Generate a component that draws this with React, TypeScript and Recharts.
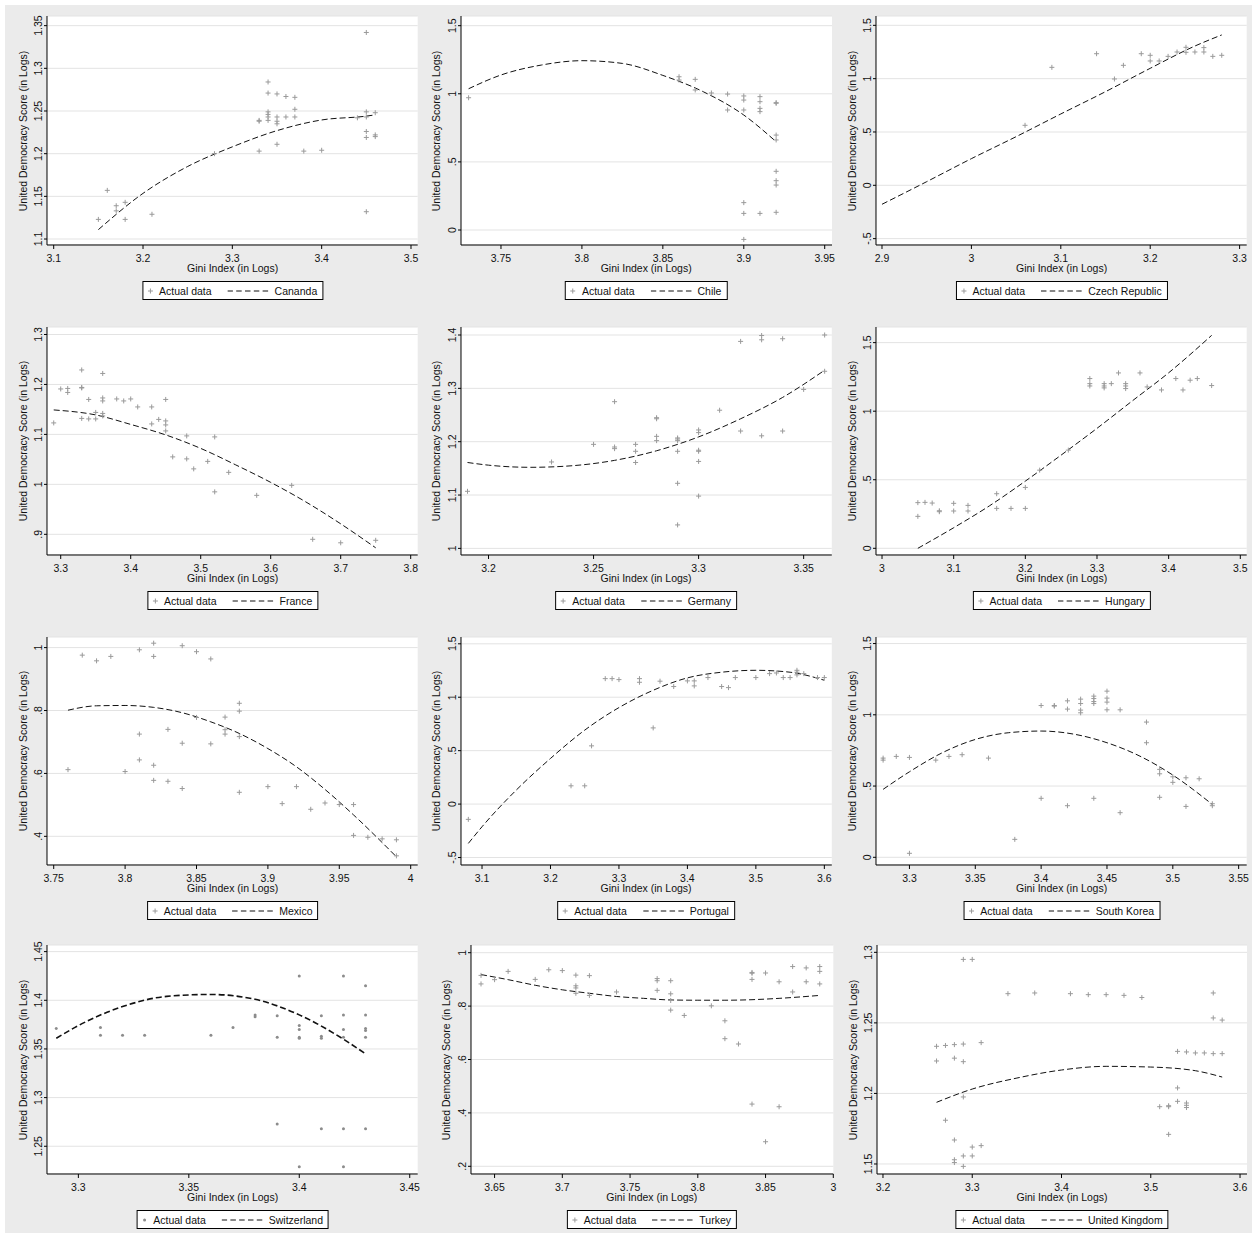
import React from 'react'
import { ComposedChart, Scatter, Line, XAxis, YAxis, CartesianGrid } from 'recharts'

type Pt = [number, number]

// ---- data (x = Gini index in logs, y = democracy score in logs) ----

const canadaPts: Pt[] = [
  [3.15, 1.123], [3.16, 1.157], [3.17, 1.139], [3.17, 1.133], [3.18, 1.143], [3.18, 1.123],
  [3.21, 1.129], [3.28, 1.2], [3.33, 1.203], [3.33, 1.239], [3.33, 1.238], [3.34, 1.284],
  [3.34, 1.271], [3.34, 1.249], [3.34, 1.246], [3.34, 1.243], [3.34, 1.239], [3.35, 1.27],
  [3.35, 1.243], [3.35, 1.238], [3.35, 1.235], [3.35, 1.211], [3.36, 1.267], [3.36, 1.243],
  [3.37, 1.266], [3.37, 1.252], [3.37, 1.243], [3.38, 1.203], [3.4, 1.204], [3.44, 1.242],
  [3.45, 1.342], [3.45, 1.249], [3.45, 1.243], [3.45, 1.226], [3.45, 1.219], [3.45, 1.132],
  [3.46, 1.248], [3.46, 1.222], [3.46, 1.22],
]
const canadaFit: Pt[] = [
  [3.15, 1.111], [3.2, 1.1535], [3.25, 1.185], [3.3, 1.208], [3.35, 1.227], [3.4, 1.2395],
  [3.45, 1.244], [3.46, 1.2455],
]
const canadaXTicks = [3.1, 3.2, 3.3, 3.4, 3.5]
const canadaYTicks = [1.1, 1.15, 1.2, 1.25, 1.3, 1.35]

const chilePts: Pt[] = [
  [3.73, 0.971], [3.86, 1.125], [3.86, 1.101], [3.87, 1.106], [3.87, 1.028], [3.88, 1.006],
  [3.89, 0.998], [3.89, 0.881], [3.9, 0.984], [3.9, 0.954], [3.9, 0.881], [3.9, 0.201],
  [3.9, 0.122], [3.9, -0.069], [3.91, 0.979], [3.91, 0.942], [3.91, 0.893], [3.91, 0.869],
  [3.91, 0.122], [3.92, 0.935], [3.92, 0.93], [3.92, 0.697], [3.92, 0.661], [3.92, 0.431],
  [3.92, 0.362], [3.92, 0.33], [3.92, 0.13],
]
const chileFit: Pt[] = [
  [3.73, 1.037], [3.75, 1.138], [3.775, 1.211], [3.8, 1.243], [3.825, 1.223], [3.85, 1.135],
  [3.875, 1.015], [3.9, 0.844], [3.92, 0.648],
]
const chileXTicks = [3.75, 3.8, 3.85, 3.9, 3.95]
const chileYTicks = [0, 0.5, 1, 1.5]

const czechPts: Pt[] = [
  [3.06, 0.5625], [3.09, 1.106], [3.14, 1.234], [3.16, 0.997], [3.17, 1.125], [3.19, 1.234],
  [3.2, 1.219], [3.2, 1.166], [3.21, 1.166], [3.22, 1.209], [3.23, 1.25], [3.24, 1.294],
  [3.24, 1.247], [3.25, 1.25], [3.26, 1.291], [3.26, 1.25], [3.27, 1.209], [3.28, 1.219],
]
const czechFit: Pt[] = [
  [2.9, -0.178], [2.95, 0.034], [3.0, 0.25], [3.05, 0.456], [3.1, 0.669], [3.15, 0.878],
  [3.2, 1.097], [3.25, 1.306], [3.28, 1.41],
]
const czechXTicks = [2.9, 3, 3.1, 3.2, 3.3]
const czechYTicks = [-0.5, 0, 0.5, 1, 1.5]

const francePts: Pt[] = [
  [3.29, 1.123], [3.3, 1.191], [3.31, 1.192], [3.31, 1.184], [3.33, 1.229], [3.33, 1.194],
  [3.33, 1.193], [3.33, 1.132], [3.34, 1.17], [3.34, 1.131], [3.35, 1.144], [3.35, 1.131],
  [3.36, 1.222], [3.36, 1.173], [3.36, 1.167], [3.36, 1.142], [3.36, 1.137], [3.38, 1.171],
  [3.39, 1.167], [3.4, 1.171], [3.41, 1.155], [3.43, 1.155], [3.43, 1.121], [3.44, 1.13],
  [3.45, 1.17], [3.45, 1.127], [3.45, 1.119], [3.45, 1.107], [3.46, 1.055], [3.48, 1.097],
  [3.48, 1.051], [3.49, 1.031], [3.51, 1.046], [3.52, 1.095], [3.52, 0.985], [3.54, 1.024],
  [3.58, 0.978], [3.63, 0.998], [3.66, 0.89], [3.7, 0.883], [3.75, 0.888],
]
const franceFit: Pt[] = [
  [3.29, 1.149], [3.35, 1.139], [3.4, 1.12], [3.45, 1.099], [3.5, 1.072], [3.55, 1.039],
  [3.6, 1.004], [3.65, 0.965], [3.7, 0.921], [3.75, 0.873],
]
const franceXTicks = [3.3, 3.4, 3.5, 3.6, 3.7, 3.8]
const franceYTicks = [0.9, 1, 1.1, 1.2, 1.3]

const germanyPts: Pt[] = [
  [3.19, 1.107], [3.23, 1.162], [3.25, 1.195], [3.26, 1.275], [3.26, 1.19], [3.26, 1.187],
  [3.27, 1.195], [3.27, 1.182], [3.27, 1.161], [3.28, 1.245], [3.28, 1.243], [3.28, 1.21],
  [3.28, 1.202], [3.29, 1.207], [3.29, 1.205], [3.29, 1.202], [3.29, 1.182], [3.29, 1.122],
  [3.29, 1.044], [3.3, 1.222], [3.3, 1.217], [3.3, 1.184], [3.3, 1.182], [3.3, 1.163],
  [3.3, 1.098], [3.31, 1.259], [3.32, 1.388], [3.32, 1.22], [3.33, 1.399], [3.33, 1.391],
  [3.33, 1.211], [3.34, 1.393], [3.34, 1.22], [3.35, 1.298], [3.36, 1.4], [3.36, 1.332],
]
const germanyFit: Pt[] = [
  [3.19, 1.161], [3.2, 1.156], [3.22, 1.152], [3.24, 1.155], [3.26, 1.165], [3.28, 1.183],
  [3.3, 1.209], [3.32, 1.243], [3.34, 1.283], [3.36, 1.334],
]
const germanyXTicks = [3.2, 3.25, 3.3, 3.35]
const germanyYTicks = [1, 1.1, 1.2, 1.3, 1.4]

const hungaryPts: Pt[] = [
  [3.05, 0.333], [3.05, 0.233], [3.06, 0.335], [3.07, 0.33], [3.08, 0.274], [3.08, 0.267],
  [3.1, 0.328], [3.1, 0.272], [3.12, 0.313], [3.12, 0.272], [3.16, 0.398], [3.16, 0.291],
  [3.18, 0.291], [3.2, 0.444], [3.2, 0.291], [3.22, 0.57], [3.26, 0.716], [3.29, 1.238],
  [3.29, 1.201], [3.29, 1.184], [3.31, 1.201], [3.31, 1.184], [3.31, 1.17], [3.32, 1.201],
  [3.33, 1.279], [3.34, 1.201], [3.34, 1.184], [3.34, 1.165], [3.36, 1.279], [3.37, 1.177],
  [3.39, 1.155], [3.41, 1.238], [3.42, 1.155], [3.43, 1.226], [3.44, 1.238], [3.46, 1.187],
]
const hungaryFit: Pt[] = [
  [3.05, 0], [3.1, 0.15], [3.15, 0.31], [3.2, 0.49], [3.25, 0.68], [3.3, 0.875],
  [3.35, 1.078], [3.4, 1.28], [3.46, 1.553],
]
const hungaryXTicks = [3, 3.1, 3.2, 3.3, 3.4, 3.5]
const hungaryYTicks = [0, 0.5, 1, 1.5]

const mexicoPts: Pt[] = [
  [3.76, 0.612], [3.77, 0.976], [3.78, 0.958], [3.79, 0.972], [3.8, 0.606], [3.81, 0.993],
  [3.81, 0.725], [3.81, 0.643], [3.82, 1.014], [3.82, 0.972], [3.82, 0.626], [3.82, 0.578],
  [3.83, 0.74], [3.83, 0.575], [3.84, 1.006], [3.84, 0.696], [3.84, 0.552], [3.85, 0.987],
  [3.85, 0.778], [3.86, 0.964], [3.86, 0.694], [3.87, 0.779], [3.87, 0.739], [3.87, 0.725],
  [3.88, 0.823], [3.88, 0.798], [3.88, 0.717], [3.88, 0.54], [3.9, 0.558], [3.91, 0.504],
  [3.92, 0.558], [3.93, 0.486], [3.94, 0.506], [3.95, 0.501], [3.96, 0.501], [3.96, 0.403],
  [3.97, 0.397], [3.98, 0.392], [3.99, 0.389], [3.99, 0.338],
]
const mexicoFit: Pt[] = [
  [3.76, 0.801], [3.78, 0.815], [3.8, 0.816], [3.82, 0.81], [3.84, 0.793], [3.86, 0.764],
  [3.88, 0.727], [3.9, 0.679], [3.92, 0.621], [3.94, 0.549], [3.96, 0.468], [3.99, 0.335],
]
const mexicoXTicks = [3.75, 3.8, 3.85, 3.9, 3.95, 4]
const mexicoYTicks = [0.4, 0.6, 0.8, 1]

const portugalPts: Pt[] = [
  [3.08, -0.143], [3.23, 0.171], [3.25, 0.171], [3.26, 0.545], [3.28, 1.174], [3.29, 1.174],
  [3.3, 1.165], [3.33, 1.174], [3.33, 1.14], [3.35, 0.713], [3.36, 1.15], [3.38, 1.1],
  [3.4, 1.153], [3.41, 1.153], [3.41, 1.106], [3.43, 1.184], [3.45, 1.1], [3.46, 1.09],
  [3.47, 1.184], [3.5, 1.184], [3.52, 1.221], [3.53, 1.227], [3.54, 1.184], [3.55, 1.184],
  [3.56, 1.252], [3.56, 1.234], [3.56, 1.209], [3.57, 1.221], [3.59, 1.184], [3.6, 1.184],
]
const portugalFit: Pt[] = [
  [3.08, -0.368], [3.1, -0.212], [3.15, 0.131], [3.2, 0.427], [3.25, 0.692], [3.3, 0.903],
  [3.35, 1.065], [3.4, 1.181], [3.45, 1.234], [3.5, 1.252], [3.55, 1.234], [3.6, 1.159],
]
const portugalXTicks = [3.1, 3.2, 3.3, 3.4, 3.5, 3.6]
const portugalYTicks = [-0.5, 0, 0.5, 1, 1.5]

const koreaPts: Pt[] = [
  [3.28, 0.696], [3.28, 0.682], [3.29, 0.708], [3.3, 0.701], [3.3, 0.028], [3.32, 0.682],
  [3.33, 0.708], [3.34, 0.72], [3.36, 0.696], [3.38, 0.126], [3.4, 1.065], [3.4, 0.414],
  [3.41, 1.065], [3.41, 1.061], [3.42, 1.098], [3.42, 1.04], [3.42, 0.362], [3.43, 1.11],
  [3.43, 1.079], [3.43, 1.033], [3.43, 1.014], [3.44, 1.131], [3.44, 1.114], [3.44, 1.093],
  [3.44, 1.079], [3.44, 0.414], [3.45, 1.166], [3.45, 1.117], [3.45, 1.089], [3.45, 1.035],
  [3.46, 1.035], [3.46, 0.313], [3.48, 0.949], [3.48, 0.804], [3.49, 0.617], [3.49, 0.586],
  [3.49, 0.421], [3.5, 0.565], [3.5, 0.526], [3.51, 0.558], [3.51, 0.357], [3.52, 0.551],
  [3.53, 0.376], [3.53, 0.362],
]
const koreaFit: Pt[] = [
  [3.28, 0.477], [3.3, 0.6], [3.325, 0.734], [3.35, 0.827], [3.375, 0.874], [3.4, 0.886],
  [3.425, 0.864], [3.45, 0.804], [3.475, 0.71], [3.5, 0.577], [3.53, 0.371],
]
const koreaXTicks = [3.3, 3.35, 3.4, 3.45, 3.5, 3.55]
const koreaYTicks = [0, 0.5, 1, 1.5]

const swissPts: Pt[] = [
  [3.29, 1.371], [3.31, 1.372], [3.31, 1.364], [3.32, 1.364], [3.33, 1.364], [3.36, 1.364],
  [3.37, 1.372], [3.38, 1.385], [3.38, 1.383], [3.39, 1.384], [3.39, 1.362], [3.39, 1.273],
  [3.4, 1.425], [3.4, 1.374], [3.4, 1.37], [3.4, 1.362], [3.4, 1.361], [3.4, 1.229],
  [3.41, 1.384], [3.41, 1.363], [3.41, 1.361], [3.41, 1.268], [3.42, 1.425], [3.42, 1.385],
  [3.42, 1.37], [3.42, 1.362], [3.42, 1.268], [3.42, 1.229], [3.43, 1.415], [3.43, 1.385],
  [3.43, 1.371], [3.43, 1.369], [3.43, 1.362], [3.43, 1.268],
]
const swissFit: Pt[] = [
  [3.29, 1.361], [3.3, 1.374], [3.32, 1.3935], [3.34, 1.404], [3.36, 1.406], [3.38, 1.401],
  [3.4, 1.385], [3.42, 1.36], [3.43, 1.345],
]
const swissXTicks = [3.3, 3.35, 3.4, 3.45]
const swissYTicks = [1.25, 1.3, 1.35, 1.4, 1.45]

const turkeyPts: Pt[] = [
  [3.64, 0.915], [3.64, 0.883], [3.65, 0.899], [3.66, 0.93], [3.68, 0.9], [3.69, 0.936],
  [3.7, 0.933], [3.71, 0.916], [3.71, 0.876], [3.71, 0.868], [3.71, 0.848], [3.72, 0.914],
  [3.72, 0.84], [3.74, 0.853], [3.77, 0.903], [3.77, 0.895], [3.77, 0.859], [3.78, 0.895],
  [3.78, 0.846], [3.78, 0.821], [3.78, 0.785], [3.79, 0.765], [3.81, 0.801], [3.82, 0.745],
  [3.82, 0.678], [3.83, 0.658], [3.84, 0.926], [3.84, 0.923], [3.84, 0.9], [3.84, 0.433],
  [3.85, 0.924], [3.85, 0.292], [3.86, 0.891], [3.86, 0.423], [3.87, 0.948], [3.87, 0.853],
  [3.88, 0.943], [3.88, 0.891], [3.89, 0.948], [3.89, 0.93], [3.89, 0.883],
]
const turkeyFit: Pt[] = [
  [3.64, 0.918], [3.66, 0.899], [3.68, 0.878], [3.7, 0.861], [3.72, 0.848], [3.74, 0.836],
  [3.76, 0.829], [3.78, 0.823], [3.8, 0.822], [3.82, 0.822], [3.84, 0.824], [3.86, 0.829],
  [3.89, 0.84],
]
const turkeyXTicks = [3.65, 3.7, 3.75, 3.8, 3.85, 3.9]
const turkeyXLabels = ['3.65', '3.7', '3.75', '3.8', '3.85', '3']
const turkeyYTicks = [0.2, 0.4, 0.6, 0.8, 1]

const ukPts: Pt[] = [
  [3.26, 1.2334], [3.26, 1.223], [3.27, 1.234], [3.27, 1.181], [3.28, 1.2346], [3.28, 1.225],
  [3.28, 1.167], [3.28, 1.153], [3.28, 1.151], [3.29, 1.295], [3.29, 1.235], [3.29, 1.2225],
  [3.29, 1.1975], [3.29, 1.1557], [3.29, 1.1483], [3.3, 1.295], [3.3, 1.162], [3.3, 1.1557],
  [3.31, 1.236], [3.31, 1.163], [3.34, 1.2707], [3.37, 1.2712], [3.41, 1.2707], [3.43, 1.27],
  [3.45, 1.27], [3.47, 1.2695], [3.49, 1.268], [3.51, 1.1906], [3.52, 1.1913], [3.52, 1.1906],
  [3.52, 1.171], [3.53, 1.2298], [3.53, 1.2039], [3.53, 1.1944], [3.54, 1.2294], [3.54, 1.1932],
  [3.54, 1.1916], [3.54, 1.19], [3.55, 1.2287], [3.56, 1.2287], [3.57, 1.2282], [3.57, 1.2712],
  [3.57, 1.2535], [3.58, 1.252], [3.58, 1.2282],
]
const ukFit: Pt[] = [
  [3.26, 1.1937], [3.3, 1.2031], [3.35, 1.2109], [3.4, 1.2166], [3.45, 1.2192], [3.5, 1.2187],
  [3.55, 1.2161], [3.58, 1.2116],
]
const ukXTicks = [3.2, 3.3, 3.4, 3.5, 3.6]
const ukYTicks = [1.15, 1.2, 1.25, 1.3]

// ---- layout ----

const FONT = '"Liberation Sans", Arial, Helvetica, sans-serif'
const ROW_TOP = [16, 327, 637, 945]
const ROW_BOTTOM = [245, 555, 865, 1174]
const YW = 20
const XH = 24
const MT = 12 // room above the plot so top tick labels are not clipped
const MR = 6

type Panel = {
  name: string
  pts: Pt[]
  fit: Pt[]
  xTicks: number[]
  yTicks: number[]
  xLabels?: string[]
  xDomain: [number, number]
  yDomain: [number, number]
  row: number
  left: number
  right: number
  dot?: boolean
}

const panels: Panel[] = [
  { name: 'Cananda', pts: canadaPts, fit: canadaFit, xTicks: canadaXTicks, yTicks: canadaYTicks, xDomain: [3.0925, 3.5075], yDomain: [1.093, 1.3613], row: 0, left: 47.3, right: 418 },
  { name: 'Chile', pts: chilePts, fit: chileFit, xTicks: chileXTicks, yTicks: chileYTicks, xDomain: [3.7253, 3.9545], yDomain: [-0.11, 1.571], row: 0, left: 460.7, right: 831.7 },
  { name: 'Czech Republic', pts: czechPts, fit: czechFit, xTicks: czechXTicks, yTicks: czechYTicks, xDomain: [2.8933, 3.3079], yDomain: [-0.5597, 1.5875], row: 0, left: 876.3, right: 1247 },
  { name: 'France', pts: francePts, fit: franceFit, xTicks: franceXTicks, yTicks: franceYTicks, xDomain: [3.2804, 3.81], yDomain: [0.8586, 1.315], row: 1, left: 47.3, right: 418 },
  { name: 'Germany', pts: germanyPts, fit: germanyFit, xTicks: germanyXTicks, yTicks: germanyYTicks, xDomain: [3.1869, 3.3634], yDomain: [0.9876, 1.415], row: 1, left: 460.7, right: 831.5 },
  { name: 'Hungary', pts: hungaryPts, fit: hungaryFit, xTicks: hungaryXTicks, yTicks: hungaryYTicks, xDomain: [2.9916, 3.5089], yDomain: [-0.0488, 1.614], row: 1, left: 876.3, right: 1247 },
  { name: 'Mexico', pts: mexicoPts, fit: mexicoFit, xTicks: mexicoXTicks, yTicks: mexicoYTicks, xDomain: [3.7453, 4.0049], yDomain: [0.3089, 1.0337], row: 2, left: 47.3, right: 418 },
  { name: 'Portugal', pts: portugalPts, fit: portugalFit, xTicks: portugalXTicks, yTicks: portugalYTicks, xDomain: [3.0693, 3.6109], yDomain: [-0.57, 1.5636], row: 2, left: 460.7, right: 831.5 },
  { name: 'South Korea', pts: koreaPts, fit: koreaFit, xTicks: koreaXTicks, yTicks: koreaYTicks, xDomain: [3.2746, 3.5561], yDomain: [-0.054, 1.546], row: 2, left: 876.3, right: 1247 },
  { name: 'Switzerland', pts: swissPts, fit: swissFit, xTicks: swissXTicks, yTicks: swissYTicks, xDomain: [3.2858, 3.4536], yDomain: [1.2215, 1.4568], row: 3, left: 47.3, right: 418, dot: true },
  { name: 'Turkey', pts: turkeyPts, fit: turkeyFit, xTicks: turkeyXTicks, xLabels: turkeyXLabels, yTicks: turkeyYTicks, xDomain: [3.6326, 3.9], yDomain: [0.1712, 1.0288], row: 3, left: 470.7, right: 833 },
  { name: 'United Kingdom', pts: ukPts, fit: ukFit, xTicks: ukXTicks, yTicks: ukYTicks, xDomain: [3.1933, 3.6078], yDomain: [1.1429, 1.3052], row: 3, left: 877, right: 1247 },
]

// Stata style labels: .5 instead of 0.5
const fmt = (v: number) => {
  const s = String(Math.round(v * 1000) / 1000)
  if (s.startsWith('0.')) return s.slice(1)
  if (s.startsWith('-0.')) return '-' + s.slice(2)
  return s
}

function PlusMark(props: any) {
  const { cx, cy } = props
  if (cx == null || cy == null) return null
  return (
    <path d={`M${cx - 2.5},${cy}H${cx + 2.5}M${cx},${cy - 2.5}V${cy + 2.5}`}
      stroke="#9a9a9a" strokeWidth={1} fill="none" />
  )
}

function DotMark(props: any) {
  const { cx, cy } = props
  if (cx == null || cy == null) return null
  return <circle cx={cx} cy={cy} r={1.5} fill="#8c8c8c" />
}

function XTick(props: any) {
  const { x, y, payload, index, labels } = props
  const txt = labels ? labels[index] : fmt(payload.value)
  return (
    <text x={x} y={y} dy="0.71em" textAnchor="middle" fontSize={10.5} fontFamily={FONT} fill="#111">
      {txt}
    </text>
  )
}

function YTick(props: any) {
  const { x, y, payload } = props
  return (
    <text x={x} y={y} transform={`rotate(-90 ${x} ${y})`} textAnchor="middle"
      fontSize={10.5} fontFamily={FONT} fill="#111">
      {fmt(payload.value)}
    </text>
  )
}

function LegendBox({ name, dot, cx, top }: { name: string; dot?: boolean; cx: number; top: number }) {
  return (
    <div style={{
      position: 'absolute', left: cx, top, transform: 'translateX(-50%)', height: 19,
      boxSizing: 'border-box', border: '1px solid #000', background: '#fff',
      display: 'flex', alignItems: 'center', padding: '0 5px 0 4px',
      fontFamily: FONT, fontSize: 10.5, whiteSpace: 'nowrap', color: '#111',
    }}>
      <svg width={6} height={6} style={{ display: 'block' }}>
        {dot
          ? <circle cx={3} cy={3} r={1.5} fill="#8c8c8c" />
          : <path d="M0.5,3H5.5M3,0.5V5.5" stroke="#9a9a9a" strokeWidth={1} />}
      </svg>
      <span style={{ marginLeft: 6 }}>Actual data</span>
      <svg width={44} height={4} style={{ marginLeft: 16, display: 'block' }}>
        <line x1={0} y1={2} x2={44} y2={2} stroke="#111" strokeWidth={1} strokeDasharray="5.5 3.3" />
      </svg>
      <span style={{ marginLeft: 3 }}>{name}</span>
    </div>
  )
}

function PanelChart({ p }: { p: Panel }) {
  const top = ROW_TOP[p.row]
  const bottom = ROW_BOTTOM[p.row]
  const w = p.right - p.left + YW + MR
  const h = bottom - top + MT + XH
  const pts = p.pts.map(([x, y]) => ({ x, y }))
  const fit = p.fit.map(([x, y]) => ({ x, y }))
  const cx = (p.left + p.right) / 2
  const cy = (top + bottom) / 2

  return (
    <>
      <div style={{ position: 'absolute', left: p.left - YW, top: top - MT }}>
        <ComposedChart width={w} height={h} margin={{ top: MT, right: MR, bottom: 0, left: 0 }}>
          <CartesianGrid vertical={false} stroke="#e3e3e3" fill="#fff" />
          <XAxis type="number" dataKey="x" domain={p.xDomain} ticks={p.xTicks} allowDataOverflow
            interval={0} height={XH} tickSize={4} tickMargin={6}
            axisLine={{ stroke: '#000' }} tickLine={{ stroke: '#000' }}
            tick={(tp: any) => <XTick {...tp} labels={p.xLabels} />} />
          <YAxis type="number" dataKey="y" domain={p.yDomain} ticks={p.yTicks} allowDataOverflow
            interval={0} width={YW} tickSize={3} tickMargin={2}
            axisLine={{ stroke: '#000' }} tickLine={{ stroke: '#000' }}
            tick={(tp: any) => <YTick {...tp} />} />
          <Scatter data={pts} dataKey="y" shape={p.dot ? DotMark : PlusMark} isAnimationActive={false} />
          <Line data={fit} dataKey="y" type="monotone" stroke="#111" strokeWidth={p.dot ? 1.6 : 1}
            strokeDasharray="6 3" dot={false} activeDot={false} isAnimationActive={false} />
        </ComposedChart>
      </div>
      <div style={{
        position: 'absolute', left: cx, top: bottom + 17, transform: 'translateX(-50%)',
        fontFamily: FONT, fontSize: 10.5, lineHeight: '12px', whiteSpace: 'nowrap', color: '#111',
      }}>
        Gini Index (in Logs)
      </div>
      <div style={{
        position: 'absolute', left: p.left - 24.5, top: cy, transform: 'translate(-50%, -50%) rotate(-90deg)',
        fontFamily: FONT, fontSize: 10.5, lineHeight: '12px', whiteSpace: 'nowrap', color: '#111',
      }}>
        United Democracy Score (in Logs)
      </div>
      <LegendBox name={p.name} dot={p.dot} cx={cx} top={bottom + 36} />
    </>
  )
}

export default function App() {
  return (
    <div style={{ position: 'absolute', left: 0, top: 0, width: 1254, height: 1235, background: '#fff' }}>
      <div style={{ position: 'absolute', left: 5, top: 5, width: 1247, height: 1228, background: '#ebebeb' }} />
      {panels.map((p) => <PanelChart key={p.name} p={p} />)}
    </div>
  )
}
